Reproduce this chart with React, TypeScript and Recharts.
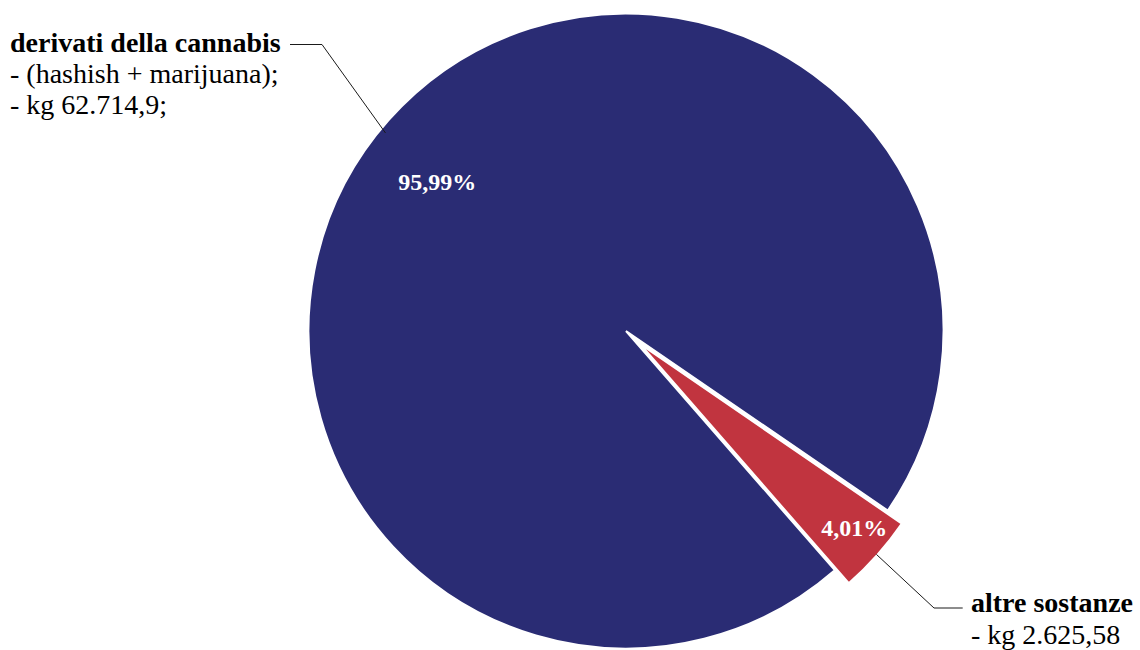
import { Cell, Pie, PieChart } from 'recharts';

// Slice names, shares (%) and the extra lines printed under each name.
const categories = ['derivati della cannabis', 'altre sostanze'];
const shares = [95.99, 4.01];
const detailLines = [['- (hashish + marijuana);', '- kg 62.714,9;'], ['- kg 2.625,58']];

const NAVY = '#2a2c74';
const RED = '#c1343f';
const INK = '#1a1a1a';
const serif = { fontFamily: "'Liberation Serif', serif" };

const data = categories.map((name, i) => ({ name, value: shares[i] }));

const RADIUS = 317.5;
const START = -34.45;
const RAD = Math.PI / 180;

const polar = (cx: number, cy: number, r: number, angle: number) => ({
  x: cx + r * Math.cos(-angle * RAD),
  y: cy + r * Math.sin(-angle * RAD),
});

const pct = (v: number) => `${v.toFixed(2).replace('.', ',')}%`;

/** Label for the big slice: percent inside, leader line up to the top-left text block. */
function cannabisLabel(props: any) {
  const { cx, cy, midAngle, outerRadius, index } = props;
  if (index !== 0) return null;
  const p = polar(cx, cy, outerRadius * 0.757, midAngle + 3.4);
  const a = polar(cx, cy, outerRadius - 6, midAngle + 2.2);
  return (
    <g>
      <text x={p.x} y={p.y + 8} textAnchor="middle" fill="#fff" fontSize={24} fontWeight="bold" style={serif}>
        {pct(shares[0])}
      </text>
      <polyline points={`${a.x},${a.y} 322,44.5 290,44.5`} fill="none" stroke={INK} strokeWidth={1} />
      <text x={10} y={51.7} fill="#000" fontSize={28} fontWeight="bold" style={serif}>
        {categories[0]}
      </text>
      {detailLines[0].map((line, i) => (
        <text key={line} x={10} y={83 + i * 31.3} fill="#000" fontSize={28} style={serif}>
          {line}
        </text>
      ))}
    </g>
  );
}

/** Label for the exploded slice: percent inside, leader line down to the bottom-right text. */
function otherLabel(props: any) {
  const { cx, cy, midAngle, outerRadius, index } = props;
  if (index !== 1) return null;
  const p = polar(cx, cy, outerRadius * 0.89, midAngle + 1);
  const a = polar(cx, cy, outerRadius - 1, midAngle);
  return (
    <g>
      <text x={p.x} y={p.y + 8} textAnchor="middle" fill="#fff" fontSize={24} fontWeight="bold" style={serif}>
        {pct(shares[1])}
      </text>
      <polyline points={`${a.x},${a.y} 934,608 962.7,608`} fill="none" stroke={INK} strokeWidth={1} />
      <text x={971} y={611.7} fill="#000" fontSize={28} fontWeight="bold" style={serif}>
        {categories[1]}
      </text>
      {detailLines[1].map((line, i) => (
        <text key={line} x={971} y={643.5 + i * 31.3} fill="#000" fontSize={28} style={serif}>
          {line}
        </text>
      ))}
    </g>
  );
}

export default function App() {
  return (
    <div style={{ position: 'absolute', left: 0, top: 0, background: '#fff' }}>
      <PieChart width={1140} height={650} margin={{ top: 0, right: 0, bottom: 0, left: 0 }}>
        {/* Base pie: only the big slice is painted, leaving the notch */}
        <Pie
          data={data}
          dataKey="value"
          nameKey="name"
          cx={626}
          cy={331}
          outerRadius={RADIUS}
          startAngle={START}
          endAngle={START + 360}
          isAnimationActive={false}
          label={cannabisLabel}
          labelLine={false}
        >
          <Cell fill={NAVY} stroke="#fff" strokeWidth={2} />
          <Cell fill="none" stroke="none" />
        </Pie>
        {/* Same pie, shifted along the small slice's mid-angle: the exploded slice */}
        <Pie
          data={data}
          dataKey="value"
          nameKey="name"
          cx={640}
          cy={344}
          outerRadius={RADIUS}
          startAngle={START}
          endAngle={START + 360}
          isAnimationActive={false}
          label={otherLabel}
          labelLine={false}
        >
          <Cell fill="none" stroke="none" />
          <Cell fill={RED} stroke="#fff" strokeWidth={2} />
        </Pie>
      </PieChart>
    </div>
  );
}
